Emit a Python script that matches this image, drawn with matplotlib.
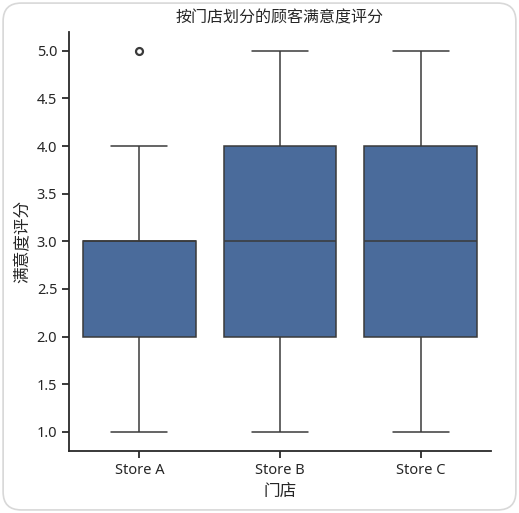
import numpy as np
import pandas as pd
import matplotlib
matplotlib.use("Agg")
import matplotlib.pyplot as plt
from matplotlib.patches import FancyBboxPatch
import seaborn as sns

# ratings per store
store_a = [1, 2, 2, 2, 3, 3, 3, 3, 4, 5]
store_b = [1, 2, 2, 3, 3, 3, 4, 4, 5]
store_c = [1, 2, 2, 3, 3, 3, 4, 4, 5]
stores = ["Store A", "Store B", "Store C"]

df = pd.DataFrame({
    "门店": [stores[0]] * len(store_a) + [stores[1]] * len(store_b) + [stores[2]] * len(store_c),
    "满意度评分": store_a + store_b + store_c,
})

sns.set_theme(style="ticks")
plt.rcParams["font.family"] = ["Noto Sans", "Noto Sans CJK SC", "DejaVu Sans"]

fig = plt.figure(figsize=(5.19, 5.13), dpi=100)
ax = fig.add_axes([0.133, 0.121, 0.813, 0.817])
sns.boxplot(data=df, x="门店", y="满意度评分", order=stores, ax=ax,
            color="#4a6b9b", saturation=1, linecolor="#3a3a3a", linewidth=1.1,
            flierprops=dict(marker="o", markersize=5, markeredgewidth=1.6,
                            markeredgecolor="#3a3a3a"))
sns.despine(ax=ax)
for s in ["left", "bottom"]:
    ax.spines[s].set_linewidth(1.3)
    ax.spines[s].set_color("#2a2a2a")
ax.tick_params(labelsize=10.5, width=1.3, length=5, color="#2a2a2a")
ax.set_yticks([1.0, 1.5, 2.0, 2.5, 3.0, 3.5, 4.0, 4.5, 5.0])
ax.set_title("按门店划分的顾客满意度评分", fontsize=11.5, pad=7)
ax.set_xlabel("门店", fontsize=12, labelpad=5)
ax.set_ylabel("满意度评分", fontsize=12)

card = FancyBboxPatch((0.006, 0.006), 0.988, 0.988, boxstyle="round,pad=0,rounding_size=0.035",
                      transform=fig.transFigure, facecolor="none", edgecolor="#d8d8d8",
                      linewidth=1.2, zorder=-1)
fig.patches.append(card)

fig.savefig("out.png", dpi=100)
